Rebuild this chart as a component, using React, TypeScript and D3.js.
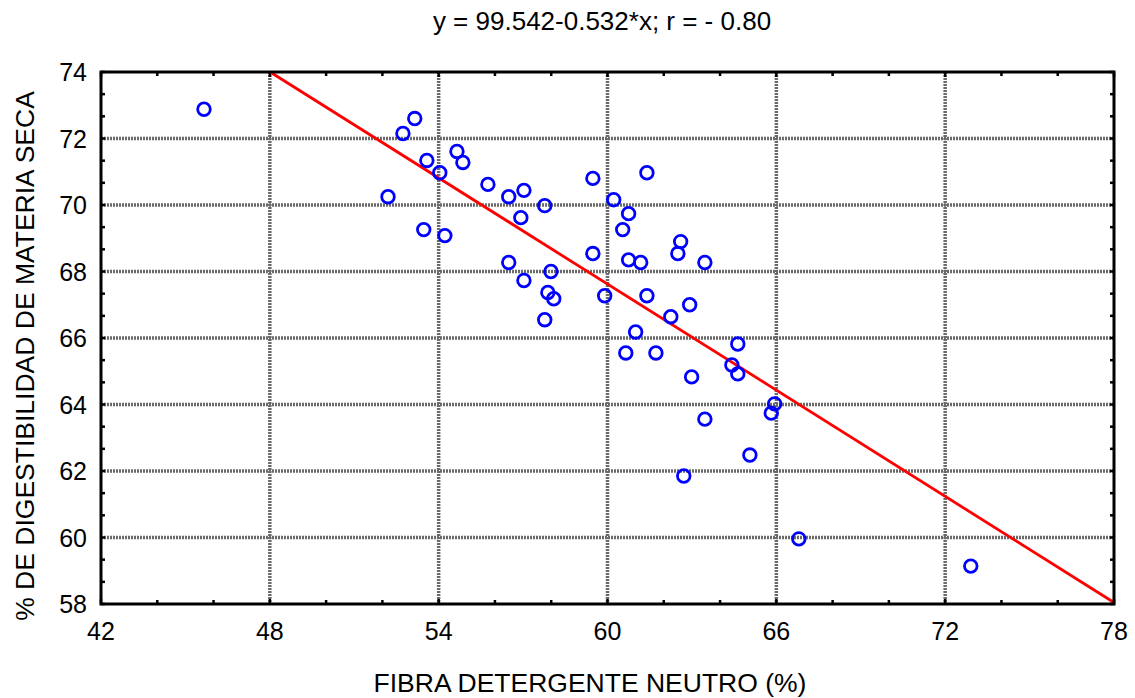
import React from "react";
import * as d3 from "d3";

const fdn = [45.66, 53.15, 52.73, 53.58, 54.65, 54.86, 54.04, 52.2, 55.75, 56.49, 57.03, 57.77, 56.92, 53.47, 54.22, 56.49, 57.99, 57.03, 57.88, 58.09, 57.77, 59.48, 59.48, 59.9, 60.22, 60.75, 60.54, 60.75, 61.18, 61.4, 61.4, 61.0, 60.65, 61.72, 62.6, 62.5, 63.46, 62.25, 62.92, 62.99, 63.46, 64.63, 64.42, 64.63, 65.06, 62.71, 65.94, 65.82, 66.8, 72.91];
const dms = [72.88, 72.6, 72.15, 71.34, 71.61, 71.28, 70.97, 70.25, 70.62, 70.25, 70.44, 69.98, 69.62, 69.26, 69.08, 68.27, 68.0, 67.73, 67.37, 67.18, 66.55, 70.8, 68.54, 67.27, 70.16, 69.74, 69.26, 68.35, 68.27, 70.97, 67.27, 66.18, 65.55, 65.55, 68.9, 68.54, 68.27, 66.64, 67.0, 64.83, 63.56, 65.82, 65.19, 64.92, 62.48, 61.85, 64.02, 63.74, 59.96, 59.14];
const xTicks = [42, 48, 54, 60, 66, 72, 78];
const yTicks = [58, 60, 62, 64, 66, 68, 70, 72, 74];
const intercept = 99.542;
const slope = -0.532;
const title = "y = 99.542-0.532*x; r = - 0.80";
const xLabel = "FIBRA DETERGENTE NEUTRO (%)";
const yLabel = "% DE DIGESTIBILIDAD DE MATERIA SECA";

export default function App() {
  const W = 1135, H = 698;
  const L = 101, R = 1114, T = 72, B = 604;
  const x = d3.scaleLinear().domain([42, 78]).range([L, R]);
  const y = d3.scaleLinear().domain([58, 74]).range([B, T]);
  const font = "'Liberation Sans', Arial, sans-serif";
  const xMinor = d3.range(42, 78.01, 2);
  const yMinor = d3.range(0, 25).map((i) => 58 + (i * 2) / 3);
  const lineX0 = (74 - intercept) / slope;
  const lineX1 = 78;
  const line = d3.line<number>().x((v) => x(v)).y((v) => y(intercept + slope * v));
  const gridStyle = { stroke: "#6a6a6a", strokeWidth: 3.5, strokeDasharray: "2 1" };
  return (
    <svg width={W} height={H} style={{ position: "absolute", left: 0, top: 0, background: "#fff" }}>
      <rect x={0} y={0} width={W} height={H} fill="#fff" />
      {xTicks.slice(1, -1).map((t) => (
        <line key={"gx" + t} x1={x(t)} x2={x(t)} y1={T} y2={B} {...gridStyle} />
      ))}
      {yTicks.slice(1, -1).map((t) => (
        <line key={"gy" + t} x1={L} x2={R} y1={y(t)} y2={y(t)} {...gridStyle} />
      ))}
      {xMinor.map((t) => (
        <g key={"mx" + t}>
          <line x1={x(t)} x2={x(t)} y1={B} y2={B - (t % 6 === 0 ? 5 : 4)} stroke="#000" strokeWidth={2.5} />
          <line x1={x(t)} x2={x(t)} y1={T} y2={T + (t % 6 === 0 ? 5 : 4)} stroke="#000" strokeWidth={2.5} />
        </g>
      ))}
      {yMinor.map((t, i) => (
        <g key={"my" + i}>
          <line x1={L} x2={L + 4} y1={y(t)} y2={y(t)} stroke="#000" strokeWidth={2.5} />
          <line x1={R} x2={R - 4} y1={y(t)} y2={y(t)} stroke="#000" strokeWidth={2.5} />
        </g>
      ))}
      <path d={line([lineX0, lineX1]) || ""} stroke="#ff0000" strokeWidth={2.8} fill="none" />
      {fdn.map((v, i) => (
        <circle key={"p" + i} cx={x(v)} cy={y(dms[i])} r={6.3} fill="none" stroke="#0000ff" strokeWidth={2.8} />
      ))}
      <rect x={L} y={T} width={R - L} height={B - T} fill="none" stroke="#000" strokeWidth={3} />
      {xTicks.map((t) => (
        <text key={"tx" + t} x={x(t)} y={640} textAnchor="middle" fontFamily={font} fontSize={25} fill="#000">
          {t}
        </text>
      ))}
      {yTicks.map((t) => (
        <text key={"ty" + t} x={87} y={y(t) + 9} textAnchor="end" fontFamily={font} fontSize={25} fill="#000">
          {t}
        </text>
      ))}
      <text x={602} y={30} textAnchor="middle" fontFamily={font} fontSize={26} fill="#000">
        {title}
      </text>
      <text x={590} y={692} textAnchor="middle" fontFamily={font} fontSize={26.5} fill="#000">
        {xLabel}
      </text>
      <text transform={`translate(34, 356) rotate(-90)`} textAnchor="middle" fontFamily={font} fontSize={26.5} fill="#000">
        {yLabel}
      </text>
    </svg>
  );
}
